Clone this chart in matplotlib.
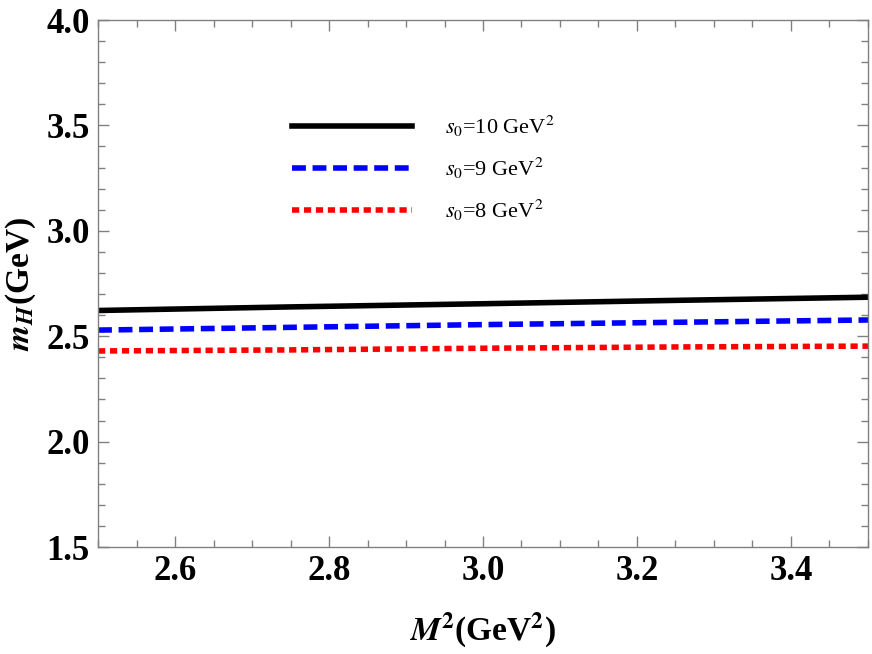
import matplotlib
matplotlib.use('Agg')
import matplotlib.pyplot as plt

# Values
m2 = [2.5, 2.75, 3.0, 3.25, 3.5]
mh_s10 = [2.622, 2.639, 2.654, 2.670, 2.685]
mh_s9 = [2.529, 2.542, 2.555, 2.566, 2.577]
mh_s8 = [2.430, 2.435, 2.443, 2.449, 2.453]
labels = [r'$s_0$=10 GeV$^2$', r'$s_0$=9 GeV$^2$', r'$s_0$=8 GeV$^2$']

plt.rcParams['font.family'] = 'Liberation Serif'
plt.rcParams['mathtext.fontset'] = 'stix'

fig = plt.figure(figsize=(8.72, 6.54), dpi=100)
ax = fig.add_axes([0.1124, 0.1636, 0.8830, 0.8058])

lw = 4.0
ax.plot(m2, mh_s10, color='black', lw=lw, label=labels[0])
ax.plot(m2, mh_s9, color='#0000ff', lw=lw, ls=(0, (2.5, 1.2)), label=labels[1])
ax.plot(m2, mh_s8, color='#ff0000', lw=lw, ls=(0, (1.3, 0.85)), label=labels[2])

ax.set_xlim(2.5, 3.5)
ax.set_ylim(1.5, 4.0)
ax.set_xticks([2.6, 2.8, 3.0, 3.2, 3.4])
ax.set_xticks([2.5 + 0.05 * i for i in range(21)], minor=True)
ax.set_yticks([1.5, 2.0, 2.5, 3.0, 3.5, 4.0])
ax.set_yticks([1.5 + 0.1 * i for i in range(26)], minor=True)
ax.xaxis.set_major_formatter(plt.FormatStrFormatter('%.1f'))
ax.yaxis.set_major_formatter(plt.FormatStrFormatter('%.1f'))

for s in ax.spines.values():
    s.set_color('#808080')
    s.set_linewidth(1.0)
ax.tick_params(which='both', direction='in', top=True, right=True, color='#808080', width=1.0)
ax.tick_params(which='major', length=8, labelsize=25, pad=6)
ax.tick_params(which='minor', length=5)
for t in ax.get_xticklabels() + ax.get_yticklabels():
    t.set_fontweight('bold')

ax.set_xlabel(r'$\mathbfit{M}^{\mathbf{2}}$(GeV$^{\mathbf{2}}$)', fontsize=24, fontweight='bold', labelpad=16)
ax.set_ylabel(r'$\mathbfit{m}_{\mathbfit{H}}$(GeV)', fontsize=24, fontweight='bold', labelpad=6)

ax.legend(loc='upper left', bbox_to_anchor=(0.226, 0.86), frameon=False, fontsize=16,
          handlelength=5.4, handletextpad=1.5, labelspacing=0.75)

fig.savefig('out.png', dpi=100)
